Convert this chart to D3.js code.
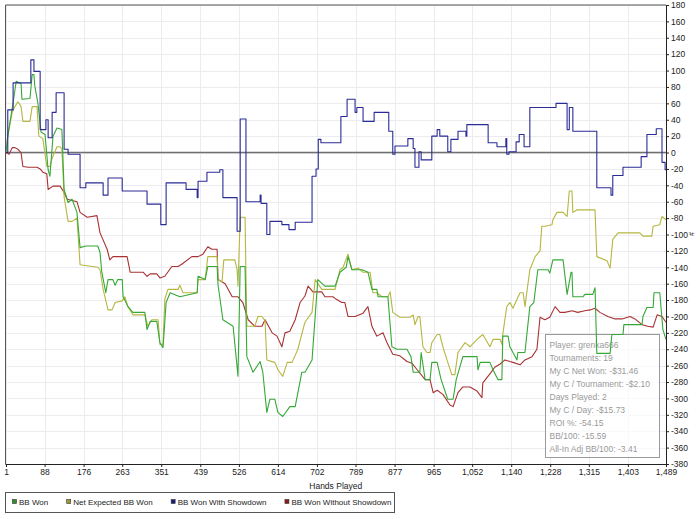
<!DOCTYPE html>
<html>
<head>
<meta charset="utf-8">
<script src="https://cdn.jsdelivr.net/npm/d3@7"></script>
<style>
  body { margin: 0; background: #fff; }
  svg { display: block; font-family: "Liberation Sans", Arial, sans-serif; }
</style>
</head>
<body>
<div id="chart"></div>
<script>
// x tick labels (hands played) and y ticks
const xTicks = [1, 88, 176, 263, 351, 439, 526, 614, 702, 789, 877, 965, 1052, 1140, 1228, 1315, 1403, 1489];
const yTicks = d3.range(-380, 181, 20);

const seriesNames = ['BB Won', 'Net Expected BB Won', 'BB Won With Showdown', 'BB Won Without Showdown'];
const seriesColors = ['#36a836', '#b6b640', '#2b2b96', '#a83232'];
const legendColors = ['#2f8f2f', '#99993a', '#1a1a80', '#8f1a1a'];

// BB Won
const bbWonHands = [1, 5, 17, 24, 35, 37, 55, 60, 64, 66, 73, 80, 89, 96, 100, 107, 116, 127, 132, 141, 150, 161, 168, 181, 208, 213, 217, 226, 231, 242, 247, 253, 263, 265, 276, 287, 314, 319, 326, 341, 348, 355, 362, 371, 393, 432, 434, 450, 456, 477, 479, 490, 513, 524, 529, 540, 544, 558, 574, 580, 589, 596, 607, 614, 625, 641, 653, 668, 675, 691, 704, 720, 743, 754, 768, 772, 781, 804, 817, 826, 837, 840, 862, 871, 882, 905, 914, 919, 934, 937, 946, 957, 961, 973, 982, 997, 1009, 1016, 1031, 1063, 1065, 1070, 1092, 1099, 1110, 1119, 1121, 1133, 1137, 1153, 1155, 1171, 1182, 1191, 1200, 1223, 1227, 1234, 1257, 1266, 1275, 1277, 1279, 1302, 1306, 1324, 1329, 1333, 1363, 1367, 1392, 1394, 1435, 1437, 1446, 1460, 1462, 1475, 1482, 1489];
const bbWonValues = [0, 20, 61, 87, 84, 65, 66, 95, 95, 81, 60, 25, 22, -21, -29, 20, 30, 28, -45, -61, -57, -73, -116, -114, -114, -122, -146, -171, -155, -155, -162, -155, -155, -176, -188, -195, -195, -216, -206, -206, -232, -238, -183, -171, -176, -171, -151, -155, -139, -139, -161, -204, -212, -273, -139, -139, -249, -268, -255, -268, -317, -301, -301, -317, -322, -310, -310, -268, -268, -253, -155, -163, -163, -146, -140, -127, -143, -143, -146, -167, -167, -176, -176, -237, -240, -240, -249, -268, -268, -244, -277, -277, -256, -256, -277, -301, -301, -277, -249, -249, -265, -256, -256, -265, -277, -277, -224, -224, -237, -253, -244, -244, -188, -183, -143, -143, -147, -131, -131, -173, -146, -146, -176, -176, -173, -173, -165, -245, -245, -222, -222, -210, -210, -200, -189, -189, -171, -171, -216, -228];

// Net Expected BB Won
const netExpHands = [1, 5, 15, 21, 28, 35, 39, 55, 60, 71, 75, 84, 93, 100, 105, 116, 123, 127, 132, 141, 150, 161, 168, 208, 213, 220, 231, 240, 247, 263, 269, 276, 287, 314, 321, 330, 344, 348, 355, 359, 366, 389, 393, 400, 432, 434, 450, 456, 477, 479, 488, 492, 517, 522, 524, 529, 540, 542, 544, 562, 569, 578, 585, 589, 607, 614, 625, 635, 646, 659, 675, 691, 698, 713, 743, 754, 761, 772, 781, 795, 806, 822, 828, 837, 849, 862, 867, 873, 889, 912, 919, 923, 930, 934, 941, 950, 957, 961, 973, 979, 986, 997, 1006, 1013, 1020, 1036, 1047, 1063, 1076, 1092, 1099, 1115, 1119, 1121, 1130, 1137, 1144, 1153, 1160, 1167, 1171, 1182, 1194, 1205, 1209, 1216, 1232, 1234, 1243, 1257, 1266, 1271, 1277, 1279, 1288, 1329, 1333, 1356, 1363, 1369, 1381, 1430, 1437, 1457, 1460, 1475, 1480, 1489];
const netExpValues = [0, 20, 49, 56, 62, 56, 38, 38, 56, 56, 20, 17, -17, -17, -7, 7, 7, 4, -54, -84, -84, -80, -137, -140, -143, -167, -192, -192, -183, -181, -176, -188, -198, -198, -212, -204, -204, -234, -234, -179, -167, -167, -162, -171, -171, -155, -155, -127, -127, -155, -158, -131, -131, -143, -163, -79, -79, -150, -212, -212, -200, -200, -205, -253, -256, -265, -273, -256, -256, -240, -207, -195, -155, -167, -167, -143, -140, -124, -143, -141, -146, -146, -171, -171, -176, -176, -170, -195, -201, -201, -198, -210, -200, -200, -237, -244, -244, -232, -222, -222, -237, -256, -271, -271, -244, -232, -237, -228, -222, -237, -228, -228, -234, -222, -188, -183, -190, -179, -171, -171, -188, -143, -127, -120, -90, -90, -88, -82, -73, -73, -78, -47, -47, -73, -70, -70, -127, -132, -141, -106, -98, -98, -102, -102, -90, -88, -78, -82];

// BB Won With Showdown
const showdownHands = [1, 5, 17, 57, 64, 78, 91, 96, 105, 114, 132, 141, 168, 181, 220, 231, 263, 319, 350, 362, 407, 432, 434, 454, 483, 490, 522, 529, 542, 574, 576, 589, 596, 623, 639, 653, 691, 700, 705, 711, 756, 770, 788, 792, 806, 831, 864, 873, 878, 907, 919, 923, 932, 937, 961, 973, 979, 997, 1004, 1020, 1038, 1040, 1088, 1108, 1128, 1130, 1135, 1151, 1158, 1169, 1182, 1241, 1266, 1271, 1279, 1333, 1365, 1369, 1392, 1433, 1446, 1467, 1480, 1487, 1489];
const showdownValues = [0, 52, 85, 113, 99, 28, 40, 18, 49, 73, 4, -2, -43, -37, -52, -31, -47, -63, -88, -37, -45, -55, -35, -24, -21, -55, -96, 41, -60, -52, -62, -100, -84, -88, -94, -85, -29, -20, 16, 12, 44, 65, 49, 55, 38, 49, 26, -2, 8, 17, 5, -18, 1, -9, 20, 28, 20, 1, 16, 26, 20, 34, 12, 7, 17, -2, 1, 13, 22, 7, 55, 60, 28, 55, 26, -43, -52, -28, -18, -5, 22, 29, -12, -21, -21];

// BB Won Without Showdown
const noShowdownHands = [1, 8, 15, 21, 28, 35, 39, 51, 71, 78, 84, 93, 96, 107, 123, 130, 139, 161, 168, 184, 206, 213, 229, 235, 242, 274, 281, 310, 319, 326, 341, 348, 359, 375, 389, 398, 420, 434, 445, 456, 465, 477, 479, 495, 511, 524, 535, 547, 562, 578, 585, 601, 612, 623, 630, 641, 653, 664, 675, 682, 693, 713, 720, 738, 743, 758, 765, 772, 788, 806, 817, 826, 837, 851, 860, 873, 889, 905, 916, 928, 946, 957, 964, 973, 986, 1002, 1009, 1020, 1031, 1047, 1063, 1074, 1076, 1092, 1103, 1115, 1126, 1137, 1144, 1160, 1171, 1187, 1198, 1205, 1216, 1227, 1239, 1250, 1261, 1277, 1290, 1306, 1318, 1329, 1340, 1358, 1374, 1390, 1408, 1419, 1435, 1448, 1460, 1469, 1480, 1489];
const noShowdownValues = [0, -2, 6, 6, 4, 0, -17, -18, -18, -20, -24, -26, -45, -41, -41, -47, -57, -60, -73, -79, -77, -98, -118, -131, -127, -127, -146, -146, -151, -148, -148, -153, -151, -139, -139, -136, -127, -127, -124, -115, -118, -118, -155, -160, -176, -176, -183, -204, -212, -212, -204, -220, -224, -237, -220, -218, -204, -183, -175, -163, -170, -170, -176, -176, -178, -183, -183, -200, -200, -196, -188, -212, -224, -220, -232, -246, -248, -255, -257, -265, -277, -277, -293, -290, -295, -308, -310, -293, -286, -286, -291, -299, -281, -270, -262, -258, -253, -255, -256, -259, -253, -249, -240, -201, -204, -201, -188, -195, -195, -193, -195, -193, -192, -190, -195, -200, -203, -203, -200, -203, -210, -212, -213, -198, -200, -207];

const infoLines = ['Player: grenka666', 'Tournaments: 19', 'My C Net Won: -$31.46', 'My C / Tournament: -$2.10', 'Days Played: 2', 'My C / Day: -$15.73', 'ROI %: -54.15', 'BB/100: -15.59', 'All-In Adj BB/100: -3.41'];

const width = 700, height = 519;
const plotLeft = 5.5, plotRight = 666, plotTop = 5, plotBottom = 464;

const svg = d3.select('#chart').append('svg')
  .attr('width', width)
  .attr('height', height);

const x = d3.scaleLinear().domain([1, 1489]).range([6, plotRight]);
const y = d3.scaleLinear().domain([-380, 180]).range([plotBottom, plotTop]);

// grid
svg.append('g').selectAll('line')
  .data(yTicks)
  .join('line')
  .attr('x1', plotLeft).attr('x2', plotRight)
  .attr('y1', d => Math.round(y(d)) + 0.5).attr('y2', d => Math.round(y(d)) + 0.5)
  .attr('stroke', '#ebebf0');
svg.append('g').selectAll('line')
  .data(xTicks)
  .join('line')
  .attr('x1', d => Math.round(x(d)) + 0.5).attr('x2', d => Math.round(x(d)) + 0.5)
  .attr('y1', plotTop).attr('y2', plotBottom)
  .attr('stroke', '#ebebf0');

// info box (under the lines)
const info = svg.append('g').attr('transform', 'translate(545.5,334.5)');
info.append('rect')
  .attr('width', 114).attr('height', 123)
  .attr('fill', 'rgba(255,255,255,0.7)')
  .attr('stroke', '#9a9a9a');
info.selectAll('text')
  .data(infoLines)
  .join('text')
  .attr('x', 4)
  .attr('y', (d, i) => 13 + i * 13)
  .attr('font-size', 8.5)
  .attr('fill', '#9a9a9a')
  .text(d => d);

// zero line
svg.append('line')
  .attr('x1', plotLeft).attr('x2', plotRight)
  .attr('y1', y(0)).attr('y2', y(0))
  .attr('stroke', '#707070')
  .attr('stroke-width', 1.5);

const series = [
  { hands: bbWonHands, values: bbWonValues, curve: d3.curveLinear },
  { hands: netExpHands, values: netExpValues, curve: d3.curveLinear },
  { hands: showdownHands, values: showdownValues, curve: d3.curveStepAfter },
  { hands: noShowdownHands, values: noShowdownValues, curve: d3.curveLinear }
];
const drawOrder = [3, 1, 0, 2];

drawOrder.forEach(function (i) {
  const s = series[i];
  const pts = s.hands.map((h, j) => [h, s.values[j]]);
  const line = d3.line()
    .x(d => x(d[0]))
    .y(d => y(d[1]))
    .curve(s.curve);
  svg.append('path')
    .datum(pts)
    .attr('d', line)
    .attr('fill', 'none')
    .attr('stroke', seriesColors[i])
    .attr('stroke-width', 1.1)
    .attr('stroke-linejoin', 'round');
});

// frame
svg.append('path')
  .attr('d', `M${plotLeft},${plotBottom}V${plotTop}H${plotRight}`)
  .attr('fill', 'none')
  .attr('stroke', '#555');

// right axis
const yAxis = d3.axisRight(y)
  .tickValues(yTicks)
  .tickSize(3)
  .tickPadding(2)
  .tickFormat(d3.format('d'));
svg.append('g')
  .attr('transform', `translate(${plotRight},0)`)
  .call(yAxis)
  .call(g => g.select('.domain').attr('stroke', '#222'))
  .call(g => g.selectAll('.tick line').attr('stroke', '#222'))
  .call(g => g.selectAll('text').attr('font-size', 8.5).attr('fill', '#222')
    .attr('font-family', '"Liberation Sans", Arial, sans-serif')
    .text(d => d < 0 ? '-' + Math.abs(d) : d));

// bottom axis
const xAxis = d3.axisBottom(x)
  .tickValues(xTicks)
  .tickSize(3)
  .tickPadding(2)
  .tickFormat(d3.format(','));
svg.append('g')
  .attr('transform', `translate(0,${plotBottom})`)
  .call(xAxis)
  .call(g => g.select('.domain').attr('stroke', '#222').attr('d', `M${plotLeft},0.5H${plotRight}`))
  .call(g => g.selectAll('.tick line').attr('stroke', '#222'))
  .call(g => g.selectAll('text').attr('font-size', 8.5).attr('fill', '#222')
    .attr('font-family', '"Liberation Sans", Arial, sans-serif'));

svg.append('text')
  .attr('x', (plotLeft + plotRight) / 2)
  .attr('y', 489)
  .attr('text-anchor', 'middle')
  .attr('font-size', 8.5)
  .attr('fill', '#222')
  .text('Hands Played');

svg.append('text')
  .attr('transform', 'translate(694,234) rotate(-90)')
  .attr('text-anchor', 'middle')
  .attr('font-size', 7)
  .attr('fill', '#222')
  .text('#');

// legend
const legend = svg.append('g');
legend.append('rect')
  .attr('x', 5.5).attr('y', 492.5)
  .attr('width', 389).attr('height', 20)
  .attr('fill', '#fff')
  .attr('stroke', '#555');
let lx = 12;
seriesNames.forEach(function (name, i) {
  legend.append('rect')
    .attr('x', lx + 0.5).attr('y', 499.5)
    .attr('width', 4).attr('height', 4)
    .attr('fill', legendColors[i])
    .attr('stroke', '#333')
    .attr('stroke-width', 0.6);
  const t = legend.append('text')
    .attr('x', lx + 7)
    .attr('y', 505)
    .attr('font-size', 8)
    .attr('fill', '#222')
    .text(name);
  lx += 7 + t.node().getComputedTextLength() + 18;
});
</script>
</body>
</html>
